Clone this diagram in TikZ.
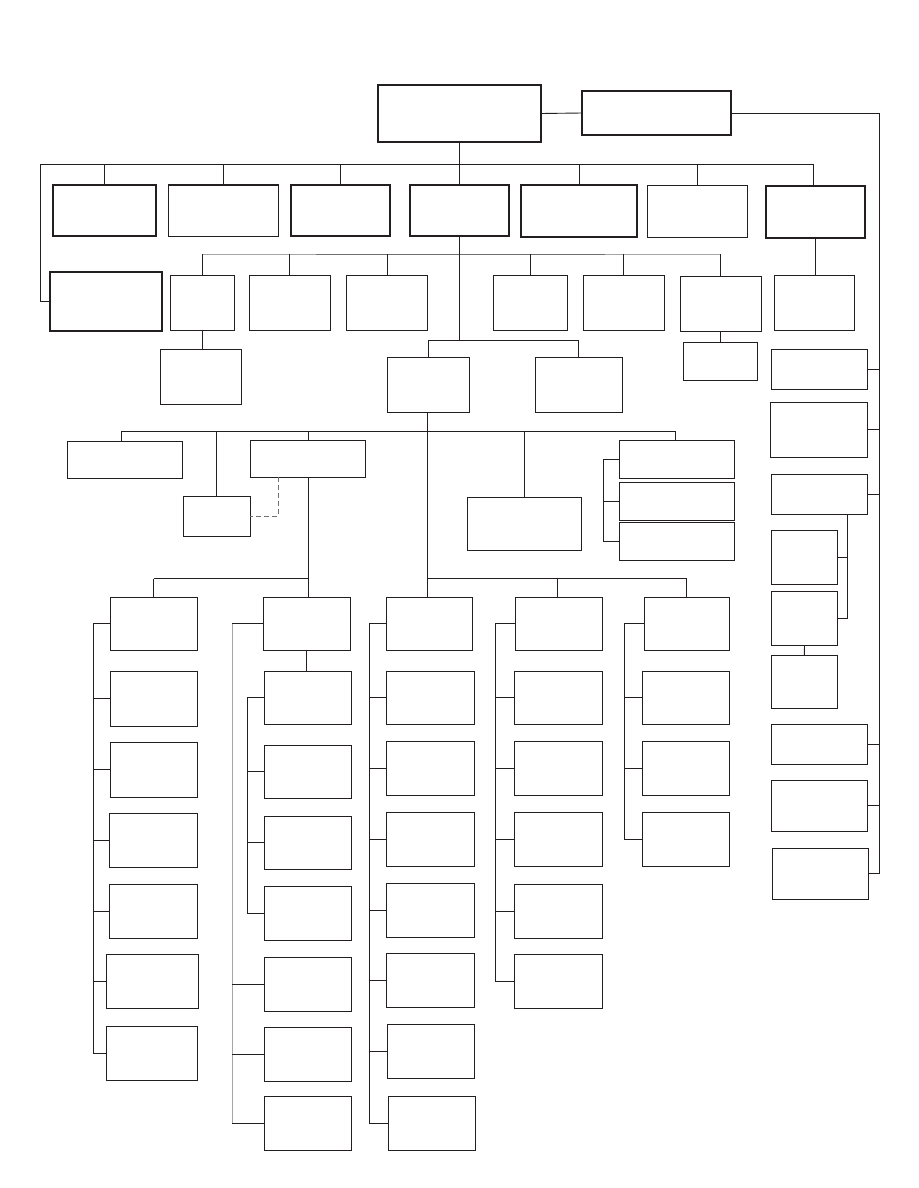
\documentclass[tikz,border=0pt]{standalone}
\usetikzlibrary{fit}
\definecolor{ink}{HTML}{231F20}
\definecolor{lgray}{HTML}{A6A6A6}
\definecolor{mgray}{HTML}{707070}
\tikzset{
  bx/.style={draw=ink, line width=0.9pt, inner sep=0pt, outer sep=0pt},
  mbx/.style={bx, line width=1.4pt},
  tbx/.style={bx, line width=1.9pt},
  ln/.style={draw=ink, line width=0.9pt},
  gln/.style={draw=lgray, line width=0.9pt},
  mln/.style={draw=mgray, line width=0.9pt},
  dln/.style={draw=mgray, line width=0.9pt, dashed, dash pattern=on 5pt off 3pt}
}
\newcommand{\bxn}[6][bx]{\node[#1, fit={(#3,#4) (#5,#6)}] (#2) {};}
\begin{document}
\begin{tikzpicture}[x=1pt,y=-1pt]
\useasboundingbox (0,0) rectangle (918,1188);
% ---------- top ----------
\bxn[tbx]{root}{378}{85}{541}{142}
\bxn[tbx]{top2}{582}{91}{731}{135}
% row 1
\bxn[tbx]{B1}{52.7}{185}{155.7}{236.3}
\bxn[mbx]{B2}{168.3}{185}{278.7}{236.3}
\bxn[tbx]{B3}{290.7}{185}{390.3}{236.3}
\bxn[tbx]{B4}{409.7}{185}{509.3}{236.3}
\bxn[tbx]{B5}{521.3}{185.3}{637.3}{237.3}
\bxn[mbx]{B6}{647.7}{185.3}{747.3}{237.3}
\bxn[tbx]{B7}{765.7}{186.3}{865.3}{238.3}
\bxn[tbx]{L1}{50}{272.3}{162.3}{331.3}
% row 2
\bxn{C1}{170.3}{275.3}{234.7}{330.3}
\bxn{C2}{249.3}{275.3}{330.3}{330.3}
\bxn{C3}{346.3}{275.3}{427.7}{330.3}
\bxn{C4}{493.3}{275.3}{567.3}{330.3}
\bxn{C5}{583.3}{275.3}{664.3}{330.3}
\bxn{C6}{680.3}{276.3}{761.3}{331.3}
\bxn{B7c}{774.3}{275.3}{854.7}{330.3}
\bxn{C1c}{160.3}{349.3}{241.3}{404.3}
\bxn{C6c}{683.3}{342.3}{757.3}{380.3}
% row 3
\bxn{D1}{387.3}{357.3}{469.3}{412.3}
\bxn{D2}{535.3}{357.3}{622.3}{412.3}
% row 4
\bxn{E1}{67.3}{441.3}{182.7}{478.3}
\bxn{E1b}{183.3}{496.3}{250.3}{536.3}
\bxn{E2}{250.3}{440.3}{365.7}{477.3}
\bxn{E4}{467.3}{497.3}{581.7}{550.3}
\bxn{F1}{619.3}{440.3}{734.7}{478.3}
\bxn{F2}{619.3}{482.3}{734.7}{520.3}
\bxn{F3}{619.3}{522.3}{734.7}{560.3}
% right column
\bxn{G1}{771.3}{349.3}{867.3}{389.3}
\bxn{G2}{770.3}{402.3}{867.3}{457.3}
\bxn{G3}{771.3}{474.3}{867.3}{514.3}
\bxn{G4}{771.3}{530.3}{837.7}{584.3}
\bxn{G5}{771.3}{591.3}{837.7}{645.3}
\bxn{G6}{771.3}{655.3}{837.3}{708.3}
\bxn{G7}{771.3}{724.3}{867.3}{764.3}
\bxn{G8}{771.3}{780.3}{867.3}{831.3}
\bxn{G9}{772.3}{848.3}{868.7}{899.3}
% column 1
\bxn{K1}{110.3}{597.3}{197.3}{650.3}
\bxn{K2}{110.3}{671.3}{197.3}{726.3}
\bxn{K3}{110.3}{742.3}{197.3}{797.3}
\bxn{K4}{109.3}{813.3}{197.3}{867.3}
\bxn{K5}{109.3}{884.3}{197.3}{938.3}
\bxn{K6}{106.3}{954.3}{198.3}{1008.3}
\bxn{K7}{106.3}{1026.3}{197.3}{1080.3}
% column 2
\bxn{M1}{263.3}{597.3}{350.3}{650.3}
\bxn{M2}{264.3}{671.3}{351.7}{724.3}
\bxn{M3}{264.3}{745.3}{351.7}{798.3}
\bxn{M4}{264.3}{816.3}{351.7}{869.3}
\bxn{M5}{264.3}{886.3}{351.7}{940.3}
\bxn{M6}{264.3}{957.3}{351.7}{1011.3}
\bxn{M7}{264.3}{1027.3}{351.7}{1081.3}
\bxn{M8}{264.3}{1096.3}{351.7}{1150.3}
% column 3
\bxn{N1}{386.3}{597.3}{472.7}{650.3}
\bxn{N2}{386.3}{671.3}{474.7}{724.3}
\bxn{N3}{386.3}{741.3}{474.7}{795.3}
\bxn{N4}{386.3}{812.3}{474.7}{866.3}
\bxn{N5}{386.3}{883.3}{474.3}{937.3}
\bxn{N6}{386.3}{953.3}{474.3}{1007.3}
\bxn{N7}{387.3}{1024.3}{474.3}{1078.3}
\bxn{N8}{388.3}{1096.3}{475.3}{1150.3}
% column 4
\bxn{P1}{515.3}{597.3}{602.3}{650.3}
\bxn{P2}{514.3}{671.3}{602.3}{724.3}
\bxn{P3}{514.3}{741.3}{602.3}{795.3}
\bxn{P4}{514.3}{812.3}{602.3}{866.3}
\bxn{P5}{514.3}{884.3}{602.3}{938.3}
\bxn{P6}{514.3}{954.3}{602.3}{1008.3}
% column 5
\bxn{Q1}{644.3}{597.3}{729.3}{650.3}
\bxn{Q2}{642.3}{671.3}{729.3}{724.3}
\bxn{Q3}{642.3}{741.3}{729.3}{795.3}
\bxn{Q4}{642.3}{812.3}{729.3}{866.3}
% ---------- bus levels ----------
\coordinate (y1) at (0,164.3);
\coordinate (y2) at (0,254.3);
\coordinate (y3) at (0,340.3);
\coordinate (y4) at (0,431.3);
\coordinate (y5) at (0,578.6);
\coordinate (lx) at (40.3,0);
\coordinate (rx) at (879.3,0);
% ---------- connectors ----------
\draw[ln] (root.east) -- (top2.west);
\draw[ln] (top2.east) -| (rx |- G9.east) -- (G9.east);
\foreach \g in {G1,G2,G3,G7,G8} \draw[ln] (\g.east) -- (rx |- \g.east);
% top bus
\draw[ln] (L1.west) -| (lx |- y1) -- ([xshift=-2]B7.north |- y1) -- ([xshift=-2]B7.north);
\draw[ln] (root.south) -- (B4.north);
\foreach \b in {B1,B2,B3,B5,B6} \draw[ln] (\b.north) -- (\b.north |- y1);
% second bus
\draw[gln] (C1.north |- y2) -- (316,254.3);
\draw[mln] (316,254.3) -- (605,254.3);
\draw[gln] (605,254.3) -- (C6.north |- y2);
\foreach \c in {C1,C2,C3,C4,C5,C6} \draw[ln] (\c.north) -- (\c.north |- y2);
\draw[ln] (B7.south) -- (B7.south |- B7c.north);
\draw[ln] (C1.south) -- (C1.south |- C1c.north);
\draw[ln] (C6.south) -- (C6.south |- C6c.north);
% third bus
\draw[ln] (B4.south) -- (B4.south |- y3);
\draw[ln] (D1.north |- y3) -- (D2.north |- y3);
\draw[ln] (D1.north) -- (D1.north |- y3);
\draw[ln] (D2.north) -- (D2.north |- y3);
% fourth bus
\draw[ln] ([xshift=-1]D1.south) -- ([xshift=-1]D1.south |- N1.north);
\draw[ln] ([xshift=-4]E1.north |- y4) -- ([xshift=-2]F1.north |- y4);
\draw[ln] ([xshift=-4]E1.north) -- ([xshift=-4]E1.north |- y4);
\draw[ln] (E1b.north) -- (E1b.north |- y4);
\draw[ln] (E2.north) -- (E2.north |- y4);
\draw[ln] (E4.north) -- (E4.north |- y4);
\draw[ln] ([xshift=-2]F1.north) -- ([xshift=-2]F1.north |- y4);
\draw[dln] ([xshift=-30]E2.south) |- (E1b.east);
\coordinate (fx) at (603.3,0);
\draw[ln] (F1.west) -| (fx |- F3.west) -- (F3.west);
\draw[ln] (F2.west) -- (fx |- F2.west);
% right sub-branch
\coordinate (gx) at (847.3,0);
\draw[ln] (gx |- G3.south) |- (G5.east);
\draw[ln] (G4.east) -- (gx |- G4.east);
\draw[ln] (G5.south) -- (G6.north);
% column buses
\draw[ln] (E2.south) -- (E2.south |- M1.north);
\draw[ln] (K1.north |- y5) -- (E2.south |- y5);
\draw[ln] (K1.north) -- (K1.north |- y5);
\draw[ln] ([xshift=-1]D1.south |- y5) -- (Q1.north |- y5);
\draw[ln] ([xshift=-1.5]P1.north) -- ([xshift=-1.5]P1.north |- y5);
\draw[ln] (Q1.north) -- (Q1.north |- y5);
% column 1 bracket
\coordinate (k) at (93.3,0);
\draw[ln] (K1.west) -| (k |- K7.west) -- (K7.west);
\foreach \n in {K2,K3,K4,K5,K6} \draw[ln] (\n.west) -- (k |- \n.west);
% column 2
\draw[ln] (M1.south) -- (M1.south |- M2.north);
\coordinate (mi) at (247.3,0);
\coordinate (mo) at (232.3,0);
\draw[ln] (M2.west) -| (mi |- M5.west) -- (M5.west);
\foreach \n in {M3,M4} \draw[ln] (\n.west) -- (mi |- \n.west);
\draw[gln] (mo |- M1.west) -- (mo |- M8.west);
\foreach \n in {M1,M6,M7,M8} \draw[ln] (\n.west) -- (mo |- \n.west);
% column 3
\coordinate (nx) at (369.3,0);
\draw[ln] (N1.west) -| (nx |- N8.west) -- (N8.west);
\foreach \n in {N2,N3,N4,N5,N6,N7} \draw[ln] (\n.west) -- (nx |- \n.west);
% column 4
\coordinate (px) at (495.3,0);
\draw[ln] (P1.west) -| (px |- P6.west) -- (P6.west);
\foreach \n in {P2,P3,P4,P5} \draw[ln] (\n.west) -- (px |- \n.west);
% column 5
\coordinate (qx) at (624.3,0);
\draw[ln] (Q1.west) -| (qx |- Q4.west) -- (Q4.west);
\foreach \n in {Q2,Q3} \draw[ln] (\n.west) -- (qx |- \n.west);
\end{tikzpicture}
\end{document}
